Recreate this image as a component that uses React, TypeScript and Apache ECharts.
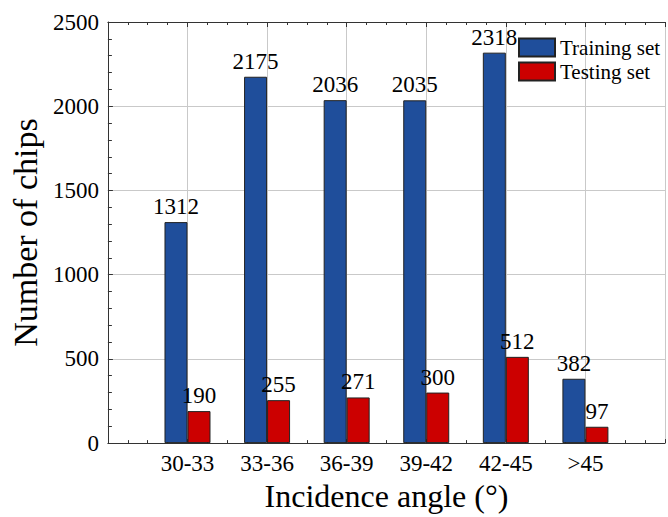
import React, { useEffect, useRef } from "react";
import * as echarts from "echarts";

// Incidence-angle bins and chip counts per split
const categories = ["30-33", "33-36", "36-39", "39-42", "42-45", ">45"];
const trainingCounts = [1312, 2175, 2036, 2035, 2318, 382];
const testingCounts = [190, 255, 271, 300, 512, 97];
const yTicks = { min: 0, max: 2500, interval: 500 };

const SERIF = "Liberation Serif";
const GRID_COLOR = "#c9c9c9";
const AXIS_COLOR = "#333";

export default function App() {
  const ref = useRef<HTMLDivElement>(null);

  useEffect(() => {
    if (!ref.current) return;
    const chart = echarts.init(ref.current, undefined, { renderer: "svg" });

    const txt = (fontSize: number) => ({
      fontSize,
      fontFamily: SERIF,
      fontWeight: "normal" as const,
      fontStyle: "normal" as const,
      color: "#000",
    });

    const barLabel = {
      show: true,
      position: "top" as const,
      distance: 4,
      ...txt(23),
    };

    const xCommon = {
      type: "value" as const,
      min: 0,
      max: categories.length + 1,
      interval: 1,
      axisLine: { show: true, onZero: false, lineStyle: { color: AXIS_COLOR, width: 1 } },
      minorTick: { show: true, splitNumber: 4, length: 3, lineStyle: { color: AXIS_COLOR } },
    };

    chart.setOption({
      animation: false,
      backgroundColor: "#fff",
      textStyle: txt(12),
      grid: { left: 103, top: 22, width: 574, height: 424, containLabel: false },
      legend: {
        orient: "vertical",
        left: 513,
        top: 32,
        itemWidth: 36,
        itemHeight: 18,
        itemGap: 3,
        icon: "rect",
        textStyle: txt(21),
        data: ["Training set", "Testing set"],
      },
      xAxis: [
        {
          ...xCommon,
          position: "bottom",
          axisTick: { show: true, inside: true, length: 4, lineStyle: { color: AXIS_COLOR } },
          splitLine: { show: true, lineStyle: { color: GRID_COLOR, width: 1 } },
          axisLabel: {
            ...txt(23),
            margin: 9,
            formatter: (v: number) => categories[v - 1] ?? "",
          },
          name: "Incidence angle (°)",
          nameLocation: "middle",
          nameGap: 36,
          nameTextStyle: txt(32),
        },
        {
          ...xCommon,
          position: "top",
          axisTick: { show: true, inside: true, length: 5, lineStyle: { color: AXIS_COLOR } },
          splitLine: { show: false },
          axisLabel: { show: false },
        },
      ],
      yAxis: {
        type: "value",
        min: yTicks.min,
        max: yTicks.max,
        interval: yTicks.interval,
        axisLine: { show: true, lineStyle: { color: AXIS_COLOR, width: 1 } },
        axisTick: { show: true, inside: true, length: 5, lineStyle: { color: AXIS_COLOR } },
        minorTick: { show: true, splitNumber: 5, length: 4, lineStyle: { color: AXIS_COLOR } },
        splitLine: { show: true, lineStyle: { color: GRID_COLOR, width: 1 } },
        axisLabel: {
          ...txt(23),
          margin: 9,
          formatter: (v: number) => String(v),
        },
        name: "Number of chips",
        nameLocation: "middle",
        nameGap: 45,
        nameTextStyle: txt(34),
      },
      series: [
        {
          name: "Training set",
          type: "bar",
          xAxisIndex: 0,
          barWidth: 23,
          barGap: "0%",
          data: trainingCounts.map((v, i) => [i + 1, v]),
          itemStyle: { color: "#1f4e9b", borderColor: "#222", borderWidth: 1 },
          label: barLabel,
        },
        {
          name: "Testing set",
          type: "bar",
          xAxisIndex: 0,
          barWidth: 23,
          barGap: "0%",
          data: testingCounts.map((v, i) => [i + 1, v]),
          itemStyle: { color: "#cc0000", borderColor: "#222", borderWidth: 1 },
          label: barLabel,
        },
      ],
    });

    return () => chart.dispose();
  }, []);

  return (
    <div
      ref={ref}
      style={{ position: "fixed", left: 0, top: 0, width: 668, height: 517 }}
    />
  );
}
